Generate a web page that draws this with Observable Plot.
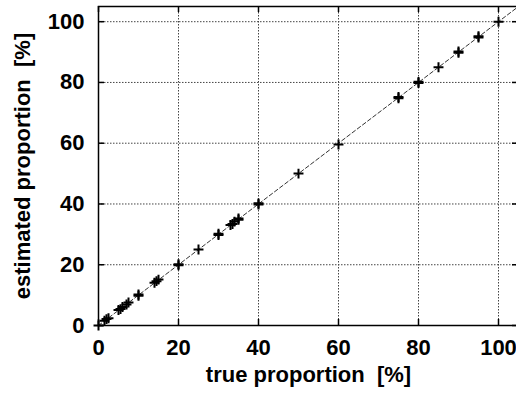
<!DOCTYPE html>
<html>
<head>
<meta charset="utf-8">
<script src="https://cdn.jsdelivr.net/npm/d3@7"></script>
<script src="https://cdn.jsdelivr.net/npm/@observablehq/plot@0.6"></script>
<style>
  html, body { margin: 0; padding: 0; background: #fff; }
  #chart svg { display: block; }
</style>
</head>
<body>
<div id="chart"></div>
<script>
// true proportion [%] of each sample
const trueProportion = [0, 1.5, 2, 2.5, 5, 5.5, 6, 7, 7.5, 10, 10, 14, 14.5, 15, 20, 20, 25, 30, 30, 33, 33.5, 34, 35, 35, 40, 40, 50, 60, 75, 75, 80, 80, 85, 90, 90, 95, 95, 100];
// estimated proportion [%]
const estimatedProportion = [0, 1.6, 2.1, 2.4, 5.1, 5.4, 6.1, 6.9, 7.6, 9.8, 10.2, 14.1, 14.6, 15.1, 19.8, 20.2, 25, 29.8, 30.2, 33.1, 33.4, 34.2, 34.8, 35.2, 39.8, 40.2, 50, 59.6, 74.8, 75.2, 79.8, 80.2, 85, 89.8, 90.2, 94.8, 95.2, 100];
// axis ticks
const tickValues = [0, 20, 40, 60, 80, 100];
// reference diagonal y = x
const diagonal = [0, 105];
const axisDomain = [0, 105];

const points = trueProportion.map((t, i) => ({t, e: estimatedProportion[i]}));

const font = "'Liberation Sans', Arial, Helvetica, sans-serif";

const chart = Plot.plot({
  width: 516,
  height: 398,
  marginLeft: 98,
  marginRight: -2,
  marginTop: 6,
  marginBottom: 73,
  style: {fontFamily: font, fontSize: "22px", fontWeight: "bold", background: "#fff", color: "#000"},
  x: {domain: axisDomain},
  y: {domain: axisDomain},
  marks: [
    Plot.gridX(tickValues, {stroke: "#444", strokeOpacity: 1, strokeWidth: 1, strokeDasharray: "1.5,1.5"}),
    Plot.gridY(tickValues, {stroke: "#444", strokeOpacity: 1, strokeWidth: 1, strokeDasharray: "1.5,1.5"}),
    // inward ticks on all four sides
    Plot.ruleX(tickValues, {x: d => d, y1: 0, y2: 2, stroke: "#000", strokeWidth: 1.5}),
    Plot.ruleX(tickValues, {x: d => d, y1: 105, y2: 103, stroke: "#000", strokeWidth: 1.5}),
    Plot.ruleY(tickValues, {y: d => d, x1: 0, x2: 1.5, stroke: "#000", strokeWidth: 1.5}),
    Plot.ruleY(tickValues, {y: d => d, x1: 105, x2: 103.5, stroke: "#000", strokeWidth: 1.5}),
    Plot.line(diagonal, {x: d => d, y: d => d, stroke: "#333", strokeWidth: 1, strokeDasharray: "4,2.5"}),
    Plot.frame({stroke: "#000", strokeWidth: 1.5}),
    Plot.dot(points, {x: "t", y: "e", symbol: "plus", r: 3.3, fill: "none", stroke: "#000", strokeWidth: 2}),
    Plot.axisX(tickValues, {tickSize: 0, tickPadding: 14, label: null, fontSize: 22, fontWeight: "bold"}),
    Plot.axisY(tickValues, {tickSize: 0, tickPadding: 14, label: null, fontSize: 22, fontWeight: "bold"}),
    Plot.text(["true proportion\u00a0\u00a0[%]"], {frameAnchor: "bottom", dy: 56, fontSize: 22, fontWeight: "bold", fill: "#000"}),
    Plot.text(["estimated proportion\u00a0\u00a0[%]"], {frameAnchor: "left", textAnchor: "middle", dx: -76, rotate: -90, fontSize: 22, fontWeight: "bold", fill: "#000"})
  ]
});

document.getElementById("chart").appendChild(chart);
</script>
</body>
</html>
